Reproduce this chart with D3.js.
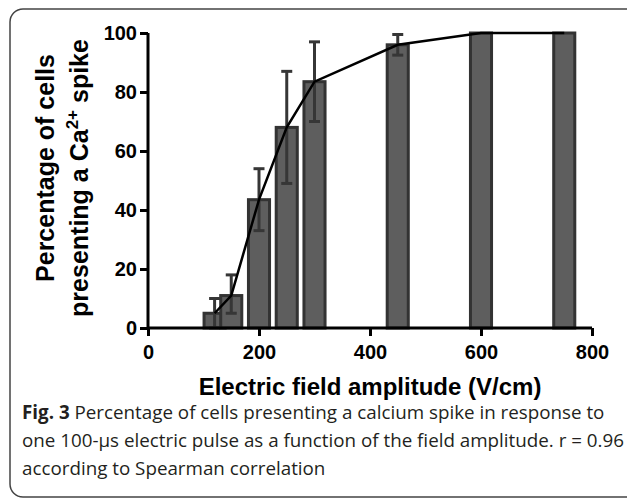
<!DOCTYPE html>
<html>
<head>
<meta charset="utf-8">
<script src="https://cdn.jsdelivr.net/npm/d3@7"></script>
<style>
  body { margin: 0; background: #fff; }
  svg { display: block; }
</style>
</head>
<body>
<div class="display"></div>
<script>
// field amplitudes (V/cm)
const amplitudes = [120, 150, 200, 250, 300, 450, 600, 750];
// mean percentage of cells with a spike
const percents = [5, 11, 43.5, 68, 83.5, 96, 100, 100];
// error bar ends
const errLow = [0, 5, 33, 49, 70, 92.5, 100, 100];
const errHigh = [10, 18, 54, 87, 97, 99.5, 100, 100];
const xTicks = [0, 200, 400, 600, 800];
const yTicks = [0, 20, 40, 60, 80, 100];

const width = 627, height = 498;
const svg = d3.select(".display").append("svg")
  .attr("width", width)
  .attr("height", height);

// card frame (runs off the right and bottom edges)
svg.append("rect")
  .attr("x", 10).attr("y", 9)
  .attr("width", 660).attr("height", 488)
  .attr("rx", 13)
  .attr("fill", "none")
  .attr("stroke", "#444")
  .attr("stroke-width", 1.5);

const xScale = d3.scaleLinear().domain([0, 800]).range([148, 592]);
const yScale = d3.scaleLinear().domain([0, 100]).range([328, 33]);
const barW = 38; // bar width in V/cm units

const plot = svg.append("g");

// bars
plot.selectAll(".bar").data(amplitudes).enter().append("rect")
  .attr("class", "bar")
  .attr("x", d => xScale(d - barW / 2))
  .attr("width", xScale(barW) - xScale(0))
  .attr("y", (d, i) => yScale(percents[i]))
  .attr("height", (d, i) => yScale(0) - yScale(percents[i]))
  .attr("fill", "#5e5e5e")
  .attr("stroke", "#333")
  .attr("stroke-width", 3);

// error bars
const err = plot.selectAll(".err").data(amplitudes.slice(0, 6)).enter().append("g")
  .attr("class", "err")
  .attr("stroke", "#363636")
  .attr("stroke-width", 3);
err.append("line")
  .attr("x1", d => xScale(d)).attr("x2", d => xScale(d))
  .attr("y1", (d, i) => yScale(errLow[i]))
  .attr("y2", (d, i) => yScale(errHigh[i]));
err.append("line")
  .attr("x1", d => xScale(d) - 5.5).attr("x2", d => xScale(d) + 5.5)
  .attr("y1", (d, i) => yScale(errHigh[i]))
  .attr("y2", (d, i) => yScale(errHigh[i]));
err.append("line")
  .attr("x1", d => xScale(d) - 5.5).attr("x2", d => xScale(d) + 5.5)
  .attr("y1", (d, i) => yScale(errLow[i]))
  .attr("y2", (d, i) => yScale(errLow[i]));

// line through the means
const line = d3.line()
  .x(d => xScale(d[0]))
  .y(d => yScale(d[1]));
plot.append("path")
  .datum(amplitudes.map((d, i) => [d, percents[i]]))
  .attr("d", line)
  .attr("fill", "none")
  .attr("stroke", "#000")
  .attr("stroke-width", 2.5);

// axes
const xAxis = d3.axisBottom(xScale).tickValues(xTicks).tickSize(8).tickPadding(9);
const yAxis = d3.axisLeft(yScale).tickValues(yTicks).tickSize(8).tickPadding(3);

const gx = svg.append("g")
  .attr("transform", `translate(0,${yScale(0)})`)
  .call(xAxis);
const gy = svg.append("g")
  .attr("transform", `translate(${xScale(0)},0)`)
  .call(yAxis);

[gx, gy].forEach(g => {
  g.select(".domain").attr("stroke", "#000").attr("stroke-width", 3);
  g.selectAll(".tick line").attr("stroke", "#000").attr("stroke-width", 3);
  g.selectAll(".tick text")
    .attr("fill", "#000")
    .style("font-family", "'Liberation Sans', Arial, sans-serif")
    .style("font-weight", "bold")
    .style("font-size", "20px");
});
gx.select(".domain").attr("d", `M${xScale(0)},0H${xScale(800)}`);
gy.select(".domain").attr("d", `M0,${yScale(0)}V${yScale(100)}`);

// axis titles
svg.append("text")
  .attr("x", 370).attr("y", 395)
  .attr("text-anchor", "middle")
  .style("font-family", "'Liberation Sans', Arial, sans-serif")
  .style("font-weight", "bold")
  .style("font-size", "24px")
  .text("Electric field amplitude (V/cm)");

const yTitle = svg.append("g")
  .attr("transform", "translate(0,178) rotate(-90)")
  .style("font-family", "'Liberation Sans', Arial, sans-serif")
  .style("font-weight", "bold")
  .style("font-size", "25px")
  .attr("text-anchor", "middle");
yTitle.append("text").attr("x", 10).attr("y", 54).text("Percentage of cells");
const t2 = yTitle.append("text").attr("x", 0).attr("y", 88);
t2.append("tspan").text("presenting a Ca");
t2.append("tspan").attr("dy", -10).style("font-size", "17px").text("2+");
t2.append("tspan").attr("dy", 10).text(" spike");

// caption
const cap = svg.append("g")
  .style("font-family", "'Open Sans', sans-serif")
  .style("font-size", "18.8px")
  .attr("fill", "#231f20");
const c1 = cap.append("text").attr("x", 22).attr("y", 419);
c1.append("tspan").style("font-weight", "bold").text("Fig. 3");
c1.append("tspan").text(" Percentage of cells presenting a calcium spike in response to");
cap.append("text").attr("x", 22).attr("y", 447)
  .text("one 100-\u03bcs electric pulse as a function of the field amplitude. r = 0.96");
cap.append("text").attr("x", 22).attr("y", 475)
  .text("according to Spearman correlation");
</script>
</body>
</html>
